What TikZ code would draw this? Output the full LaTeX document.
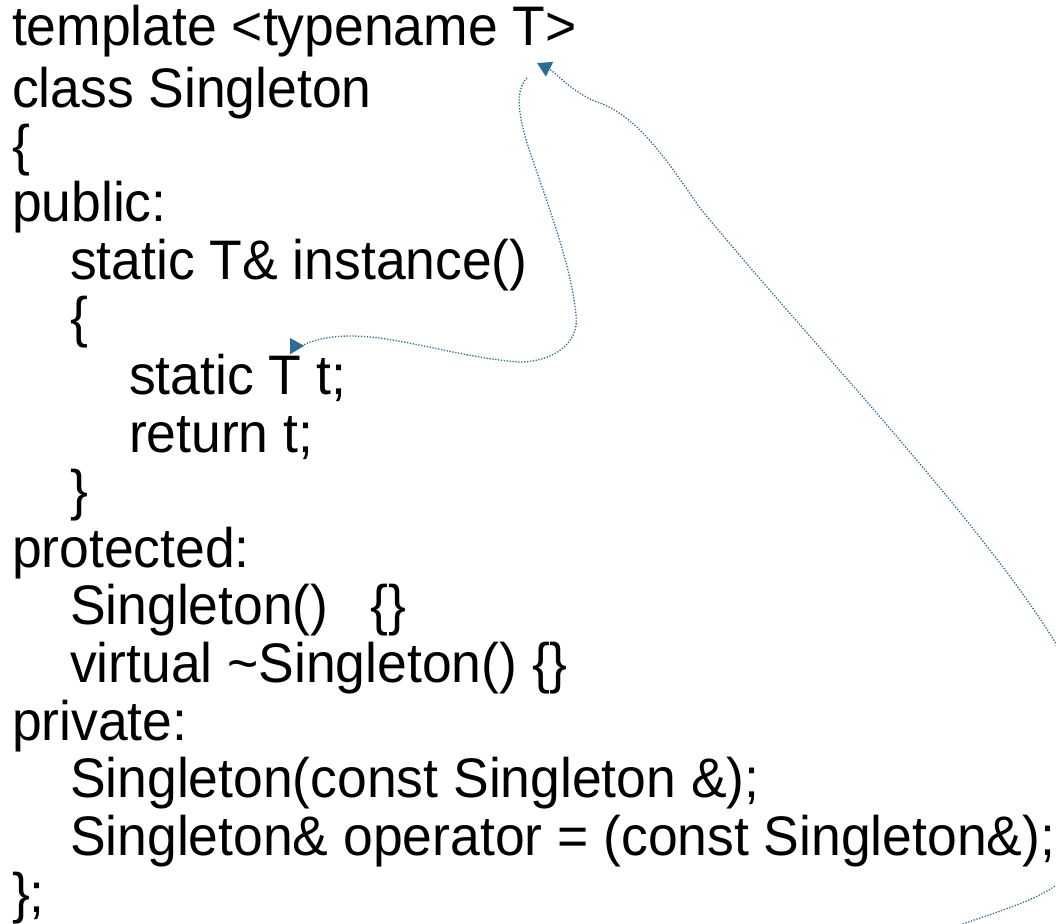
\documentclass[tikz,border=0pt]{standalone}
\usepackage{fontspec}
\setmainfont{Liberation Sans}[FakeStretch=0.96]
\usetikzlibrary{arrows.meta}
\definecolor{linkblue}{RGB}{46,108,152}
\begin{document}
\begin{tikzpicture}[x=1bp,y=-1bp,
  code/.style={anchor=base west, inner sep=0pt, outer sep=0pt,
    font=\fontsize{55.7bp}{58bp}\selectfont},
  link/.style={draw=linkblue, line width=1.3bp, dash pattern=on 1.3bp off 1.6bp,
    -{Triangle[length=14bp,width=16bp,fill=linkblue]}}
]
\useasboundingbox (0,0) rectangle (1056,924);
\fill[white] (0,0) rectangle (1056,924);
\clip (0,0) rectangle (1056,924);

% source lines: indent levels at x = 12, 70, 129
\node[code] (l1)  at (12,45)    {template <typename T>};
\node[code] (l2)  at (12,107)   {class Singleton};
\node[code] (l3)  at (12,164)   {\{};
\node[code] (l4)  at (12,221.6) {public:};
\node[code] (l5)  at (70,279.2) {static T\& instance()};
\node[code] (l6)  at (70,336.8) {\{};
\node[code] (l7)  at (129,394.4) {static T t;};
\node[code] (l8)  at (129,452)  {return t;};
\node[code] (l9)  at (70,509.6) {\}};
\node[code] (l10) at (12,567.2) {protected:};
\node[code] (l11) at (70,624.8) {Singleton()\hspace{42bp}\{\}};
\node[code] (l12) at (70,682.4) {virtual \textasciitilde Singleton() \{\}};
\node[code] (l13) at (12,740)   {private:};
\node[code] (l14) at (70,797.6) {Singleton(const Singleton \&);};
\node[code] (l15) at (70,855.2) {Singleton\& operator = (const Singleton\&);};
\node[code] (l16) at (12,912.8) {\};};

% connector end points
\coordinate (tparam) at (537,63);
\coordinate (tlocal) at (290,338);
\coordinate (afoot)  at (527,78);
\coordinate (bfoot)  at (930,936);

% template parameter -> local static object
\draw[link] (afoot)
  .. controls (515,90) and (517,115) .. (532,158)
  .. controls (550,210) and (572,270) .. (576,315)
  .. controls (580,345) and (550,362) .. (520,362)
  .. controls (460,358) and (400,336) .. (350,336)
  .. controls (315,336) and (296,348) .. (tlocal);

% long connector from below, running past the right edge
\draw[link] (bfoot)
  .. controls (980,916) and (1040,902) .. (1062,880)
  .. controls (1092,800) and (1078,700) .. (1055,642)
  .. controls (980,520) and (800,330) .. (700,208)
  .. controls (670,165) and (640,118) .. (600,103)
  .. controls (575,95) and (555,72) .. (tparam);
\end{tikzpicture}
\end{document}
